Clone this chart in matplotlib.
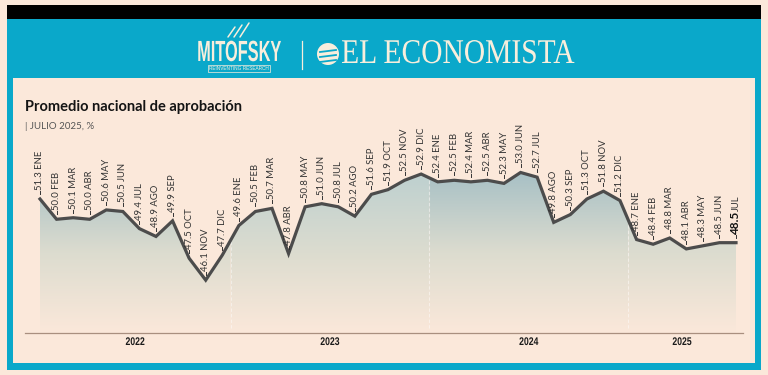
import matplotlib.pyplot as plt
import numpy as np
from matplotlib.patches import Rectangle, Polygon, Circle
from matplotlib.colors import LinearSegmentedColormap
from matplotlib.patheffects import AbstractPathEffect
from matplotlib.transforms import Affine2D

# data: monthly approval (%), Jan 2022 - Jul 2025
years = ['2022', '2023', '2024', '2025']
month_names = ['ENE', 'FEB', 'MAR', 'ABR', 'MAY', 'JUN',
               'JUL', 'AGO', 'SEP', 'OCT', 'NOV', 'DIC']
approval_2022 = [51.3, 50.0, 50.1, 50.0, 50.6, 50.5, 49.4, 48.9, 49.9, 47.5, 46.1, 47.7]
approval_2023 = [49.6, 50.5, 50.7, 47.8, 50.8, 51.0, 50.8, 50.2, 51.6, 51.9, 52.5, 52.9]
approval_2024 = [52.4, 52.5, 52.4, 52.5, 52.3, 53.0, 52.7, 49.8, 50.3, 51.3, 51.8, 51.2]
approval_2025 = [48.7, 48.4, 48.8, 48.1, 48.3, 48.5, 48.5]

approval = approval_2022 + approval_2023 + approval_2024 + approval_2025
point_months = (month_names * 4)[:len(approval)]
x = np.arange(len(approval))

PEACH = '#fbe8da'
CYAN = '#0aa8ca'
CREAM = '#f8eedc'
LINE = '#4c4c4c'


class Squeeze(AbstractPathEffect):
    """squeeze text horizontally around its own centre (condensed look)"""
    def __init__(self, sx, anchor='center'):
        super().__init__()
        self.sx = sx
        self.anchor = anchor

    def draw_path(self, renderer, gc, tpath, affine, rgbFace=None):
        bb = tpath.get_extents(affine)
        cx = bb.x0 if self.anchor == 'left' else (bb.x0 + bb.x1) / 2
        aff = affine + Affine2D().translate(-cx, 0).scale(self.sx, 1).translate(cx, 0)
        renderer.draw_path(gc, tpath, aff, rgbFace)


W, H = 768, 375
fig = plt.figure(figsize=(W / 100, H / 100), dpi=100)
fig.patch.set_facecolor(PEACH)

# background / frame in pixel coords
bg = fig.add_axes([0, 0, 1, 1])
bg.set_xlim(0, W)
bg.set_ylim(H, 0)
bg.axis('off')
bg.add_patch(Rectangle((7, 5), 754, 365, color=CYAN, lw=0))
bg.add_patch(Rectangle((7, 5), 754, 14, color='black', lw=0))
bg.add_patch(Rectangle((13, 78), 742, 285, color=PEACH, lw=0))

# header
bg.text(239, 53, 'MITOFSKY', ha='center', va='center', fontsize=21, fontweight='bold',
        family=['Liberation Sans', 'DejaVu Sans'], color=CREAM,
        path_effects=[Squeeze(0.56)])
bg.text(239, 68.5, 'REINVENTING RESEARCH', ha='center', va='center', fontsize=3.4,
        family=['Liberation Sans', 'DejaVu Sans'], color=CREAM,
        bbox=dict(boxstyle='square,pad=0.25', fc='none', ec=CREAM, lw=0.5))
# little bird mark above the name
for k in range(3):
    bg.plot([228 + 6 * k, 235 + 7 * k], [37, 27 - 2 * k], color=CREAM, lw=1.1,
            solid_capstyle='round')
bg.plot([302, 302], [41, 69], color=CREAM, lw=0.9)
bg.add_patch(Circle((328, 54), 11, color=CREAM, lw=0))
for dy in (-2, 3, 8):
    bg.plot([320, 336], [54 + dy, 52 + dy], color=CYAN, lw=1.3)
bg.text(341, 54.5, 'EL ECONOMISTA', ha='left', va='center', fontsize=25,
        family=['Liberation Serif', 'DejaVu Serif'], color=CREAM,
        path_effects=[Squeeze(0.85, anchor='left')])

# titles
bg.text(25, 111, 'Promedio nacional de aprobación', fontsize=10.5, fontweight='bold',
        family=['Lato', 'DejaVu Sans'], color='#151515', va='baseline')
bg.text(25, 129, '| JULIO 2025, %', fontsize=7,
        family=['Lato', 'DejaVu Sans'], color='#555555', va='baseline')

# chart axes mapped onto the inner panel
ax = fig.add_axes([13 / W, 12 / H, 742 / W, 285 / H])
ax.patch.set_alpha(0)
ax.axis('off')
px_x = 696 / (len(approval) - 1)
px_y = 15.6
ax.set_xlim(-27 / px_x, len(approval) - 1 + 19 / px_x)
ax.set_ylim(51.3 - 164 / px_y, 51.3 + 121 / px_y)

y_base = 51.3 - 134 / px_y
y_top = max(approval)
edges = [0, 11.5, 23.5, 35.5, len(approval) - 1]
band_tops = ['#a7c0c5', '#bdd0d0', '#a7c0c5', '#bdd0d0']
for b in range(4):
    a0, a1 = edges[b], edges[b + 1]
    inner = [i for i in x if a0 < i < a1]
    xs = [a0] + inner + [a1]
    ys = list(np.interp(xs, x, approval))
    poly = Polygon(list(zip(xs, ys)) + [(a1, y_base), (a0, y_base)],
                   closed=True, fc='none', ec='none')
    ax.add_patch(poly)
    cmap = LinearSegmentedColormap.from_list('g', [PEACH, '#dcdccf', band_tops[b]])
    grad = np.linspace(0, 1, 256).reshape(-1, 1)
    im = ax.imshow(grad, extent=[a0, a1, y_base, y_top], origin='lower',
                   aspect='auto', cmap=cmap, zorder=1)
    im.set_clip_path(poly)
    if b > 0:
        ax.plot([a0, a0], [y_base + 0.3, np.interp(a0, x, approval)], color='white',
                alpha=0.45, lw=0.8, ls=(0, (3, 2)), zorder=2)

ax.plot(x, approval, color=LINE, lw=2.3, zorder=3, solid_joinstyle='miter')

# baseline and years
ax.plot([-15 / px_x, len(approval) - 1 + 7 / px_x], [y_base, y_base],
        color='#a98f7f', lw=0.9, zorder=2, clip_on=False)
for b, yr in enumerate(years):
    ax.text((edges[b] + edges[b + 1]) / 2, 51.3 - 143 / px_y, yr, ha='center',
            va='center', fontsize=8, fontweight='bold',
            family=['Liberation Sans', 'DejaVu Sans'], color='#1a1a1a',
            path_effects=[Squeeze(0.78)])

# point labels
lab_kw = dict(textcoords='offset points', rotation=90, ha='center', va='bottom',
              family=['Lato', 'DejaVu Sans'])
for i, (v, m) in enumerate(zip(approval, point_months)):
    ax.plot([i, i], [v + 5 / px_y, v + 8 / px_y], color='#333333', lw=0.7, zorder=3)
    if i == len(approval) - 1:
        ax.annotate(f'{v:.1f}', (i, v), xytext=(0, 5.5), fontsize=8.5,
                    fontweight='bold', color='#111111', **lab_kw)
        ax.annotate(m, (i, v), xytext=(0, 23), fontsize=6.8,
                    color='#333333', **lab_kw)
    else:
        ax.annotate(f'{v:.1f} {m}', (i, v), xytext=(0, 6.5), fontsize=6.8,
                    color='#333333', **lab_kw)

fig.savefig('out.png', dpi=100, facecolor=PEACH)
